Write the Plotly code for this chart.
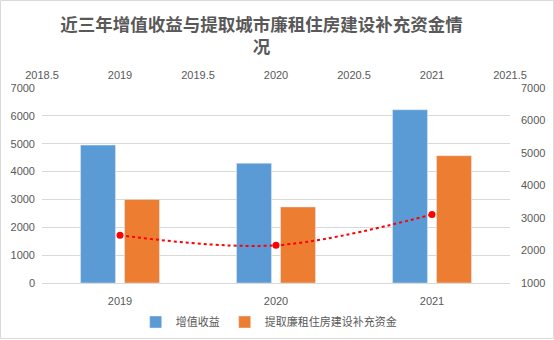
import plotly.graph_objects as go

years = ["2019", "2020", "2021"]
years_num = [2019, 2020, 2021]
zengzhi = [4950, 4300, 6220]
tiqu = [3000, 2730, 4570]
line_vals = [2470, 2160, 3110]
top_tick_vals = [2018.5, 2019, 2019.5, 2020, 2020.5, 2021, 2021.5]
top_tick_text = ["2018.5", "2019", "2019.5", "2020", "2020.5", "2021", "2021.5"]

title_text = "近三年增值收益与提取城市廉租住房建设补充资金情<br>况"
name1 = "增值收益"
name2 = "提取廉租住房建设补充资金"

grey = "#595959"
font_family = "Liberation Sans, Noto Sans CJK SC, sans-serif"

fig = go.Figure()
fig.add_trace(go.Bar(x=years, y=zengzhi, name=name1, marker_color="#5b9bd5",
                     xaxis="x", yaxis="y"))
fig.add_trace(go.Bar(x=years, y=tiqu, name=name2, marker_color="#ed7d31",
                     xaxis="x", yaxis="y"))
fig.add_trace(go.Scatter(x=years_num, y=line_vals, mode="lines+markers",
                         line=dict(color="#ff0000", dash="dot", width=2, shape="spline", smoothing=1.0),
                         marker=dict(color="#ff0000", size=7),
                         xaxis="x2", yaxis="y2", showlegend=False))

ml, mr, mt, mb = 42, 44, 88, 57
W, H = 554, 340
pw, ph = W - ml - mr, H - mt - mb

fig.update_layout(
    width=W, height=H,
    margin=dict(l=ml, r=mr, t=mt, b=mb, autoexpand=False),
    paper_bgcolor="white", plot_bgcolor="white",
    font=dict(family=font_family, color=grey, size=11),
    title=dict(text=title_text, x=0.472, xanchor="center", y=0.91, yanchor="middle",
               font=dict(size=17.5, color=grey, family="Noto Sans CJK SC, sans-serif", weight="bold")),
    barmode="group", bargap=0.436, bargroupgap=0.205,
    xaxis=dict(type="category", showgrid=False, showline=True, linecolor="#d9d9d9",
               ticks="", tickfont=dict(size=11, color=grey), ticklabelstandoff=8,
               automargin=False),
    xaxis2=dict(overlaying="x", side="top", range=[2018.5, 2021.5],
                tickmode="array", tickvals=top_tick_vals, ticktext=top_tick_text,
                showgrid=False, showline=False, ticks="", automargin=False,
                tickfont=dict(size=11, color=grey), ticklabelstandoff=6),
    yaxis=dict(range=[0, 7000], dtick=1000, showgrid=True, gridcolor="#d9d9d9", gridwidth=1,
               zeroline=False, showline=False, ticks="", tickfont=dict(size=11, color=grey),
               ticklabelstandoff=6, automargin=False),
    yaxis2=dict(overlaying="y", side="right", range=[1000, 7000], dtick=1000, showgrid=False,
                zeroline=False, showline=False, ticks="", tickfont=dict(size=11, color=grey),
                ticklabelstandoff=10, automargin=False),
    legend=dict(orientation="h", x=0.485, xanchor="center", xref="container",
                y=1 - 322 / 340, yanchor="middle", yref="container",
                font=dict(size=11, color=grey), itemwidth=30, traceorder="normal"),
    shapes=[dict(type="rect", xref="paper", yref="paper",
                 x0=-ml / pw + 0.5 / pw, x1=1 + (mr - 0.5) / pw,
                 y0=-mb / ph + 1.5 / ph, y1=1 + (mt - 0.5) / ph,
                 line=dict(color="#d9d9d9", width=1), layer="below")],
)

fig.write_html("out.html")
